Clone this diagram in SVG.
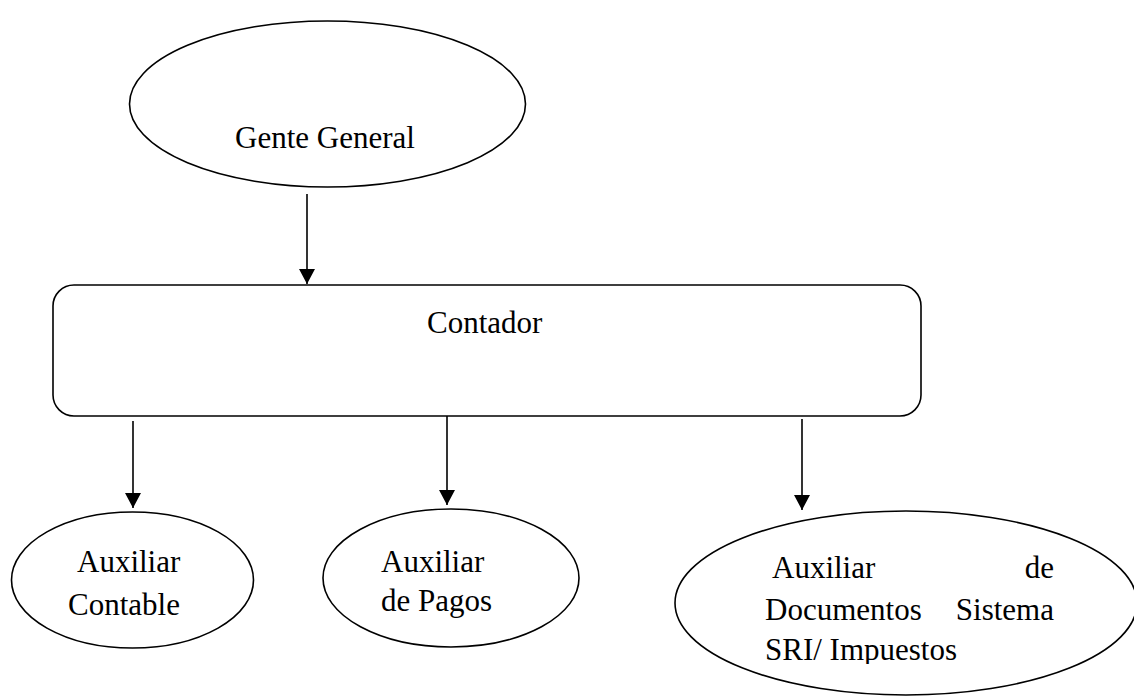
<svg xmlns="http://www.w3.org/2000/svg" width="1134" height="697" viewBox="0 0 1134 697">
<style>
.shape{fill:#fff;stroke:#000;stroke-width:1.6}
.lbl{font-family:"Liberation Serif","Times New Roman",serif;font-size:31px;fill:#000}
.conn{stroke:#000;stroke-width:1.6;fill:none;marker-end:url(#ah)}
</style>
<defs>
<marker id="ah" viewBox="0 0 15 16" refX="15" refY="8" markerWidth="15" markerHeight="16" markerUnits="userSpaceOnUse" orient="auto">
<path d="M0,0 L15,8 L0,16 z" fill="#000"/>
</marker>
<clipPath id="clip3"><rect x="740" y="520" width="340" height="144"/></clipPath>
</defs>
<rect width="1134" height="697" fill="#fff"/>
<g id="connectors">
<line class="conn" x1="307" y1="194" x2="307" y2="284"/>
<line class="conn" x1="133" y1="421" x2="133" y2="508"/>
<line class="conn" x1="447" y1="416" x2="447" y2="505"/>
<line class="conn" x1="802" y1="419" x2="802" y2="510"/>
</g>
<g id="gente-general">
<ellipse class="shape" cx="327.5" cy="104" rx="198" ry="83"/>
<text class="lbl" x="235" y="148">Gente General</text>
</g>
<g id="contador">
<rect class="shape" x="53" y="285" width="868" height="131" rx="21" ry="21"/>
<text class="lbl" x="427" y="333">Contador</text>
</g>
<g id="auxiliar-contable">
<ellipse class="shape" cx="132.5" cy="580" rx="121" ry="68"/>
<text class="lbl" x="77" y="572">Auxiliar</text>
<text class="lbl" x="68" y="615">Contable</text>
</g>
<g id="auxiliar-pagos">
<ellipse class="shape" cx="451" cy="578" rx="128" ry="69"/>
<text class="lbl" x="381" y="572">Auxiliar</text>
<text class="lbl" x="381" y="611">de Pagos</text>
</g>
<g id="auxiliar-documentos">
<ellipse class="shape" cx="906" cy="603" rx="231" ry="92"/>
<g clip-path="url(#clip3)">
<text class="lbl" x="772" y="578">Auxiliar</text>
<text class="lbl" x="1054" y="578" text-anchor="end">de</text>
<text class="lbl" x="765" y="620">Documentos</text>
<text class="lbl" x="1054" y="620" text-anchor="end">Sistema</text>
<text class="lbl" x="765" y="660">SRI/ Impuestos</text>
</g>
</g>
</svg>
